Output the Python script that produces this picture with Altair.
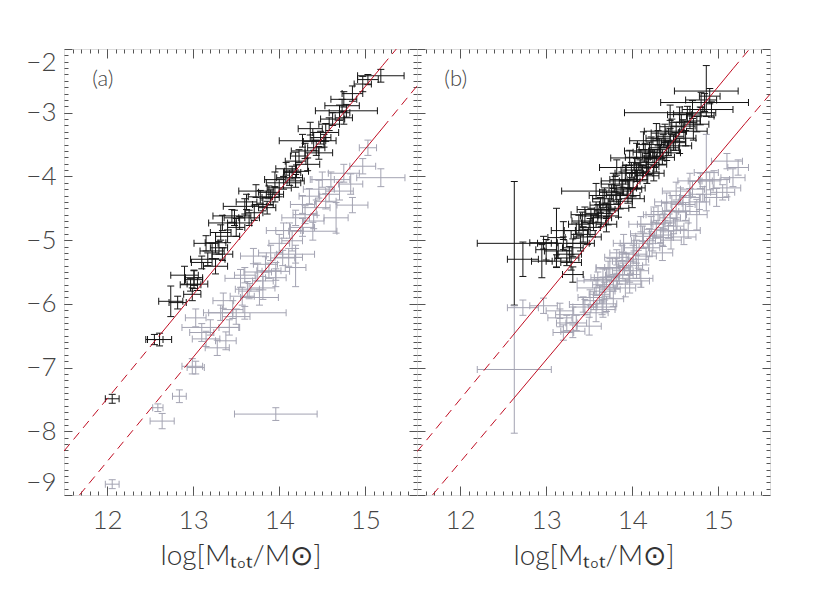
import altair as alt
import numpy as np
import pandas as pd

# ---------------- data ----------------
# Panel (a) black points
a_blk_x = [15.18, 15.03, 14.97, 14.75, 14.73, 14.70, 14.75, 14.58, 14.54, 14.48, 14.52, 14.43, 14.46, 14.27,
           14.23, 14.19, 14.33, 14.15, 14.12, 14.19, 14.00, 13.88, 13.90, 13.81, 13.86, 13.73, 13.71, 13.65,
           13.54, 13.50, 13.34, 13.32, 13.40, 13.26, 13.30, 13.22, 13.34, 13.01, 12.97, 13.26, 13.01, 13.05,
           12.99, 12.74, 12.82, 12.61, 12.55, 12.06, 14.05, 13.60, 14.78, 13.45, 14.36, 13.95, 13.17,
           13.62, 13.78, 13.95, 14.08, 14.30, 14.40, 14.62, 14.85, 13.15, 13.10, 12.90, 13.48, 14.20]
a_blk_y = [-2.42, -2.48, -2.55, -2.79, -2.89, -3.00, -3.08, -3.18, -3.31, -3.39, -3.44, -3.55, -3.63, -3.44,
           -3.68, -3.76, -3.81, -3.94, -4.02, -4.07, -4.18, -4.25, -4.33, -4.44, -4.49, -4.23, -4.57, -4.65,
           -4.73, -4.80, -4.73, -4.88, -4.94, -5.04, -5.12, -5.17, -5.22, -5.59, -5.70, -5.41, -5.62, -5.69,
           -5.85, -5.96, -5.98, -6.56, -6.56, -7.49, -4.10, -4.47, -2.97, -4.62, -3.25, -4.05, -5.30,
           -4.40, -4.32, -4.28, -3.88, -3.60, -3.45, -3.10, -2.70, -5.05, -5.35, -5.55, -4.65, -3.92]
a_blk_xe = [0.27, 0.12, 0.10, 0.15, 0.20, 0.12, 0.10, 0.12, 0.15, 0.12, 0.14, 0.10, 0.16, 0.27,
            0.10, 0.12, 0.14, 0.10, 0.15, 0.10, 0.14, 0.12, 0.10, 0.12, 0.10, 0.20, 0.10, 0.12,
            0.14, 0.10, 0.16, 0.12, 0.14, 0.12, 0.10, 0.14, 0.12, 0.10, 0.12, 0.14, 0.10, 0.12,
            0.10, 0.14, 0.10, 0.14, 0.10, 0.08, 0.20, 0.25, 0.36, 0.22, 0.14, 0.12, 0.20,
            0.12, 0.14, 0.10, 0.12, 0.16, 0.12, 0.14, 0.12, 0.14, 0.12, 0.16, 0.12, 0.14]
a_blk_ye = [0.10, 0.08, 0.12, 0.12, 0.10, 0.12, 0.10, 0.10, 0.14, 0.10, 0.10, 0.12, 0.10, 0.10,
            0.10, 0.14, 0.10, 0.10, 0.12, 0.10, 0.14, 0.10, 0.12, 0.10, 0.10, 0.10, 0.12, 0.12,
            0.10, 0.14, 0.12, 0.12, 0.10, 0.16, 0.10, 0.12, 0.10, 0.12, 0.10, 0.12, 0.14, 0.10,
            0.10, 0.24, 0.10, 0.10, 0.08, 0.07, 0.10, 0.12, 0.10, 0.10, 0.10, 0.12, 0.10,
            0.12, 0.10, 0.12, 0.10, 0.12, 0.14, 0.10, 0.12, 0.12, 0.10, 0.14, 0.12, 0.10]

# Panel (a) grey points
a_gry_x = [15.18, 15.03, 14.97, 14.83, 14.70, 14.58, 14.46, 14.54, 14.43, 14.35, 14.27, 14.19, 14.27, 14.15,
           14.19, 14.04, 13.96, 13.84, 13.81, 13.63, 14.39, 14.66, 14.11, 14.19, 13.88, 13.96, 13.81, 13.65,
           13.57, 13.77, 13.46, 13.32, 13.42, 13.03, 13.20, 13.38, 13.28, 12.99, 13.03, 12.84, 12.59, 12.64,
           13.96, 12.06, 14.60, 14.05, 13.70, 14.85, 13.55, 13.15, 13.60,
           14.30, 14.12, 14.00, 13.90, 13.75, 13.60, 14.50, 14.75, 13.35, 13.10, 13.50, 14.40]
a_gry_y = [-4.02, -3.55, -3.84, -4.12, -4.23, -4.28, -4.20, -4.39, -4.49, -4.31, -4.44, -4.65, -4.80, -5.01,
           -5.22, -5.28, -5.49, -5.38, -5.64, -5.77, -4.86, -4.65, -5.27, -5.43, -5.48, -5.59, -5.75, -5.80,
           -5.88, -5.90, -6.09, -6.14, -6.37, -6.22, -6.37, -6.58, -6.69, -6.98, -7.00, -7.45, -7.63, -7.84,
           -7.73, -8.83, -4.05, -4.85, -5.25, -4.45, -5.60, -6.55, -6.14,
           -4.60, -4.85, -5.05, -5.20, -5.50, -5.55, -4.05, -3.95, -5.95, -6.45, -6.20, -4.70]
a_gry_xe = [0.28, 0.10, 0.15, 0.14, 0.16, 0.12, 0.18, 0.12, 0.16, 0.12, 0.14, 0.16, 0.14, 0.12,
            0.22, 0.14, 0.16, 0.14, 0.12, 0.14, 0.28, 0.14, 0.16, 0.12, 0.14, 0.12, 0.14, 0.12,
            0.14, 0.22, 0.12, 0.14, 0.12, 0.12, 0.33, 0.12, 0.14, 0.12, 0.10, 0.08, 0.06, 0.14,
            0.48, 0.08, 0.22, 0.20, 0.15, 0.18, 0.18, 0.16, 0.48,
            0.14, 0.16, 0.12, 0.14, 0.16, 0.12, 0.14, 0.18, 0.12, 0.14, 0.16, 0.12]
a_gry_ye = [0.14, 0.12, 0.12, 0.16, 0.14, 0.12, 0.14, 0.12, 0.12, 0.12, 0.14, 0.12, 0.14, 0.16,
            0.14, 0.12, 0.14, 0.12, 0.14, 0.12, 0.14, 0.24, 0.14, 0.30, 0.12, 0.14, 0.18, 0.12,
            0.14, 0.12, 0.14, 0.12, 0.12, 0.14, 0.12, 0.14, 0.12, 0.12, 0.10, 0.10, 0.06, 0.12,
            0.10, 0.07, 0.12, 0.12, 0.12, 0.12, 0.14, 0.12, 0.10,
            0.14, 0.12, 0.14, 0.12, 0.14, 0.12, 0.12, 0.14, 0.12, 0.14, 0.12, 0.12]

# Panel (b) black points
b_blk_x = [14.86, 14.90, 14.84, 14.44, 14.79, 14.67, 14.59, 14.51, 14.44, 14.36, 14.48, 14.32, 14.40, 14.24,
           14.17, 14.28, 14.09, 14.05, 14.17, 13.97, 14.01, 13.89, 13.82, 13.86, 13.74, 13.70, 13.58, 13.58,
           13.64, 13.55, 13.51, 13.43, 13.31, 13.27, 13.12, 13.14, 12.97, 12.95, 12.73, 12.63, 13.31, 14.28,
           14.13, 14.55, 14.71, 13.97, 13.82, 13.78, 14.05, 13.12, 13.24, 13.29, 14.62, 14.35, 14.20, 13.95,
           13.66, 13.45, 13.38, 13.20, 14.92, 14.55,
           13.35, 13.42, 13.48, 13.52, 13.60, 13.63, 13.68, 13.72, 13.76, 13.80, 13.84, 13.88, 13.92, 13.95,
           13.99, 14.03, 14.06, 14.10, 14.12, 14.15, 14.19, 14.22, 14.26, 14.30, 14.33, 14.38, 14.42, 14.46,
           14.50, 14.57, 14.64, 14.70, 14.75, 14.80, 13.20, 13.00, 13.40, 13.70, 14.00, 14.25]
b_blk_y = [-2.66, -2.74, -2.84, -3.00, -3.05, -3.13, -3.21, -3.29, -3.37, -3.44, -3.47, -3.55, -3.63, -3.68,
           -3.78, -3.81, -3.86, -3.94, -3.99, -4.07, -4.18, -4.18, -4.28, -4.39, -4.44, -4.54, -4.52, -4.23,
           -4.65, -4.73, -4.80, -4.91, -5.12, -5.22, -4.96, -5.17, -5.04, -5.33, -5.30, -5.05, -5.54, -3.29,
           -3.44, -3.03, -3.29, -3.71, -3.86, -4.07, -3.60, -5.33, -5.28, -5.35, -3.40, -3.70, -3.58, -4.30,
           -4.35, -4.60, -4.75, -5.05, -2.95, -3.52,
           -4.85, -4.70, -4.95, -4.62, -4.58, -4.45, -4.30, -4.62, -4.25, -4.12, -4.50, -4.05, -3.95, -4.20,
           -3.90, -3.82, -4.05, -3.70, -3.95, -3.62, -3.85, -3.50, -3.72, -3.40, -3.62, -3.32, -3.55, -3.22,
           -3.45, -3.15, -3.02, -2.95, -3.18, -2.80, -4.85, -5.15, -5.05, -4.75, -4.35, -3.95]
b_blk_xe = [0.37, 0.12, 0.51, 0.53, 0.16, 0.12, 0.14, 0.12, 0.16, 0.12, 0.14, 0.12, 0.16, 0.12,
            0.14, 0.12, 0.16, 0.12, 0.14, 0.12, 0.14, 0.16, 0.12, 0.14, 0.12, 0.14, 0.22, 0.40,
            0.12, 0.14, 0.12, 0.14, 0.12, 0.14, 0.10, 0.16, 0.16, 0.12, 0.18, 0.43, 0.12, 0.14,
            0.16, 0.14, 0.16, 0.22, 0.20, 0.14, 0.14, 0.12, 0.14, 0.12, 0.12, 0.14, 0.12, 0.14,
            0.12, 0.16, 0.12, 0.30, 0.25, 0.14,
            0.14, 0.12, 0.16, 0.12, 0.14, 0.12, 0.18, 0.12, 0.14, 0.16, 0.12, 0.14, 0.12, 0.16,
            0.12, 0.14, 0.12, 0.18, 0.12, 0.14, 0.12, 0.16, 0.12, 0.14, 0.12, 0.16, 0.12, 0.14,
            0.12, 0.14, 0.16, 0.12, 0.14, 0.18, 0.14, 0.12, 0.16, 0.12, 0.14, 0.12]
b_blk_ye = [0.40, 0.12, 0.14, 0.12, 0.14, 0.12, 0.10, 0.14, 0.12, 0.10, 0.12, 0.14, 0.12, 0.10,
            0.14, 0.12, 0.12, 0.14, 0.12, 0.12, 0.14, 0.12, 0.14, 0.12, 0.14, 0.12, 0.12, 0.12,
            0.14, 0.12, 0.14, 0.12, 0.14, 0.12, 0.46, 0.12, 0.10, 0.26, 0.27, 0.97, 0.12, 0.12,
            0.14, 0.12, 0.14, 0.12, 0.12, 0.12, 0.12, 0.10, 0.12, 0.12, 0.12, 0.12, 0.12, 0.12,
            0.14, 0.12, 0.14, 0.10, 0.12, 0.12,
            0.12, 0.14, 0.12, 0.12, 0.14, 0.12, 0.12, 0.14, 0.12, 0.12, 0.14, 0.12, 0.12, 0.14,
            0.12, 0.12, 0.14, 0.12, 0.12, 0.14, 0.12, 0.12, 0.14, 0.12, 0.12, 0.14, 0.12, 0.12,
            0.14, 0.12, 0.12, 0.14, 0.12, 0.12, 0.14, 0.16, 0.12, 0.12, 0.14, 0.12]

# Panel (b) grey points
b_gry_x = [15.10, 15.17, 15.23, 15.10, 14.86, 14.98, 14.82, 14.90, 14.79, 14.67, 14.59, 14.51, 14.44, 14.36,
           14.48, 14.28, 14.20, 14.36, 14.13, 14.20, 14.05, 14.01, 13.93, 13.82, 13.97, 13.70, 13.66, 14.67,
           14.51, 14.75, 13.82, 13.74, 13.89, 13.66, 13.82, 13.97, 13.58, 13.74, 13.51, 13.62, 13.43, 13.58,
           13.31, 13.16, 13.24, 13.31, 12.97, 12.73, 12.63, 14.05, 13.89, 13.16, 13.66, 14.40, 14.25, 14.10,
           13.90, 14.45, 13.78, 13.70, 14.65,
           13.45, 13.55, 13.60, 13.68, 13.72, 13.78, 13.85, 13.88, 13.92, 13.98, 14.02, 14.07, 14.12, 14.16,
           14.22, 14.24, 14.30, 14.33, 14.38, 14.42, 14.46, 14.52, 14.56, 14.62, 14.70, 14.78, 14.95, 15.05,
           13.35, 13.50, 13.20, 13.65, 14.10, 14.35, 14.60]
b_gry_y = [-3.76, -4.02, -3.86, -4.18, -3.94, -4.33, -4.28, -4.07, -4.07, -4.33, -4.44, -4.54, -4.65, -4.73,
           -4.78, -4.83, -4.94, -4.96, -5.01, -5.12, -5.12, -5.22, -5.33, -5.43, -5.54, -5.59, -5.70, -4.07,
           -4.23, -4.60, -5.27, -5.43, -5.48, -5.59, -5.64, -5.69, -5.75, -5.77, -5.90, -5.85, -6.01, -6.14,
           -6.17, -6.22, -6.30, -6.43, -6.03, -6.06, -7.03, -5.48, -5.33, -6.11, -6.09, -4.40, -4.60, -4.75,
           -5.05, -5.00, -5.64, -6.00, -4.85,
           -6.05, -5.95, -5.62, -5.80, -5.45, -5.92, -5.55, -5.20, -5.75, -5.40, -5.05, -5.30, -4.90, -5.25,
           -4.75, -5.05, -4.60, -4.92, -4.55, -4.85, -4.42, -4.70, -4.30, -4.55, -4.20, -4.40, -4.05, -4.25,
           -6.30, -6.35, -6.45, -6.05, -5.60, -5.20, -4.95]
b_gry_xe = [0.18, 0.14, 0.12, 0.16, 0.14, 0.14, 0.16, 0.12, 0.14, 0.12, 0.14, 0.16, 0.12, 0.14,
            0.12, 0.14, 0.16, 0.12, 0.14, 0.12, 0.14, 0.16, 0.12, 0.14, 0.12, 0.14, 0.12, 0.14,
            0.16, 0.12, 0.14, 0.16, 0.12, 0.14, 0.12, 0.14, 0.22, 0.12, 0.14, 0.12, 0.16, 0.14,
            0.20, 0.14, 0.12, 0.14, 0.16, 0.18, 0.43, 0.14, 0.12, 0.16, 0.14, 0.14, 0.12, 0.14,
            0.12, 0.12, 0.42, 0.12, 0.14,
            0.14, 0.12, 0.16, 0.12, 0.14, 0.12, 0.16, 0.14, 0.12, 0.14, 0.16, 0.12, 0.14, 0.12,
            0.16, 0.12, 0.14, 0.12, 0.16, 0.14, 0.12, 0.14, 0.12, 0.16, 0.14, 0.12, 0.18, 0.14,
            0.12, 0.14, 0.12, 0.16, 0.14, 0.12, 0.14]
b_gry_ye = [0.12, 0.14, 0.12, 0.14, 0.60, 0.14, 0.12, 0.14, 0.12, 0.14, 0.12, 0.14, 0.12, 0.14,
            0.12, 0.14, 0.12, 0.14, 0.12, 0.14, 0.12, 0.14, 0.12, 0.14, 0.12, 0.14, 0.12, 0.12,
            0.14, 0.24, 0.12, 0.14, 0.12, 0.14, 0.12, 0.14, 0.12, 0.14, 0.12, 0.14, 0.12, 0.14,
            0.12, 0.14, 0.12, 0.10, 0.12, 0.12, 1.00, 0.12, 0.14, 0.12, 0.12, 0.14, 0.12, 0.12,
            0.14, 0.14, 0.10, 0.12, 0.12,
            0.12, 0.14, 0.12, 0.14, 0.12, 0.12, 0.14, 0.12, 0.14, 0.12, 0.12, 0.14, 0.12, 0.14,
            0.12, 0.12, 0.14, 0.12, 0.14, 0.12, 0.12, 0.14, 0.12, 0.14, 0.12, 0.12, 0.14, 0.12,
            0.12, 0.14, 0.12, 0.12, 0.14, 0.12, 0.12]

# Red reference lines: x / y of the break points (dashed - solid - dashed)
a_up_x = [11.50, 12.60, 15.20, 15.36]
a_up_y = [-8.31, -6.51, -2.26, -2.00]
a_lo_x = [11.68, 12.95, 15.20, 15.60]
a_lo_y = [-9.00, -6.92, -3.24, -2.58]
b_up_x = [11.50, 12.58, 15.17, 15.35]
b_up_y = [-8.32, -6.55, -2.31, -2.02]
b_lo_x = [11.68, 12.62, 15.31, 15.60]
b_lo_y = [-9.00, -7.49, -3.17, -2.71]

panel_labels = ["(a)", "(b)"]
label_x = [11.95, 11.95]
label_y = [-2.47, -2.47]

x_major = [12, 13, 14, 15]
y_major = [-2, -3, -4, -5, -6, -7, -8, -9]
x_minor = [round(v, 2) for v in np.arange(11.6, 15.55, 0.1)]
y_minor = [round(v, 2) for v in np.arange(-8.9, -2.05, 0.1)]

# ---------------- styling ----------------
BLACK = "#141414"
GRAY = "#a3a3b2"
RED = "#c00d22"
AX = "#555555"
FONT = "Lato"
TITLE = "log[Mₜₒₜ/M⊙]"

XS = alt.Scale(domain=[11.5, 15.6], nice=False, zero=False)
YS = alt.Scale(domain=[-9, -2], nice=False, zero=False)
CS = alt.Scale(domain=["gray", "black"], range=[GRAY, BLACK])
W, H = 353, 446


def points(xs, ys, xes, yes, grp):
    df = pd.DataFrame({"x": xs, "y": ys, "xe": xes, "ye": yes})
    df["grp"] = grp
    return df


def tick_axis(orient, values, size):
    return alt.Axis(orient=orient, values=values, ticks=True, tickSize=size, offset=-size,
                    tickColor=AX, tickWidth=1, labels=False, domain=False, grid=False, title=None)


def label_x_axis():
    return alt.Axis(orient="bottom", values=x_major, ticks=False, domain=False, grid=False,
                    labelFont=FONT, labelFontSize=26, labelFontWeight=300, labelColor="#444",
                    labelPadding=12, format="d", title=TITLE, titleFont=FONT, titleFontSize=28,
                    titleFontWeight=300, titleColor="#333", titlePadding=9)


def label_y_axis():
    return alt.Axis(orient="left", values=y_major, ticks=False, domain=False, grid=False,
                    labelFont=FONT, labelFontSize=26, labelFontWeight=300, labelColor="#444",
                    labelPadding=8, labelFlush=True, format="d", title=None)


def panel(blk, gry, up_x, up_y, lo_x, lo_y, idx, show_y):
    pts = pd.concat([gry, blk], ignore_index=True)
    pts["xlo"] = pts.x - pts.xe
    pts["xhi"] = pts.x + pts.xe
    pts["ylo"] = pts.y - pts.ye
    pts["yhi"] = pts.y + pts.ye
    caps_h = pd.concat([pts.assign(cx=pts.xlo), pts.assign(cx=pts.xhi)], ignore_index=True)
    caps_v = pd.concat([pts.assign(cy=pts.ylo), pts.assign(cy=pts.yhi)], ignore_index=True)

    segs = []
    for name, lx, ly in (("up", up_x, up_y), ("lo", lo_x, lo_y)):
        segs.append(pd.DataFrame({"seg": name + "1", "style": "dash", "x": lx[0:2], "y": ly[0:2]}))
        segs.append(pd.DataFrame({"seg": name + "2", "style": "solid", "x": lx[1:3], "y": ly[1:3]}))
        segs.append(pd.DataFrame({"seg": name + "3", "style": "dash", "x": lx[2:4], "y": ly[2:4]}))
    lines = pd.concat(segs, ignore_index=True)
    txt = pd.DataFrame({"t": [panel_labels[idx]], "x": [label_x[idx]], "y": [label_y[idx]]})

    color = alt.Color("grp:N", scale=CS, legend=None)

    hbar = alt.Chart(pts).mark_rule(strokeWidth=1, clip=True).encode(
        x=alt.X("xlo:Q", scale=XS, axis=label_x_axis()), x2="xhi:Q",
        y=alt.Y("y:Q", scale=YS, axis=label_y_axis() if show_y else None), color=color)
    vbar = alt.Chart(pts).mark_rule(strokeWidth=1, clip=True).encode(
        x=alt.X("x:Q", scale=XS, axis=tick_axis("bottom", x_major, 9)),
        y=alt.Y("ylo:Q", scale=YS, axis=tick_axis("left", y_major, 8)), y2="yhi:Q", color=color)
    caph = alt.Chart(caps_h).mark_tick(orient="vertical", size=7, thickness=1, opacity=1, clip=True).encode(
        x=alt.X("cx:Q", scale=XS, axis=tick_axis("bottom", x_minor, 4)),
        y=alt.Y("y:Q", scale=YS, axis=tick_axis("left", y_minor, 4)), color=color)
    capv = alt.Chart(caps_v).mark_tick(orient="horizontal", size=7, thickness=1, opacity=1, clip=True).encode(
        x=alt.X("x:Q", scale=XS, axis=tick_axis("top", x_major, 9)),
        y=alt.Y("cy:Q", scale=YS, axis=tick_axis("right", y_major, 8)), color=color)
    dashed = alt.Chart(lines).transform_filter(alt.datum.style == "dash").mark_line(
        color=RED, strokeWidth=1, strokeDash=[9, 6], clip=True).encode(
        x=alt.X("x:Q", scale=XS, axis=tick_axis("top", x_minor, 4)),
        y=alt.Y("y:Q", scale=YS, axis=tick_axis("right", y_minor, 4)), detail="seg:N")
    solid = alt.Chart(lines).transform_filter(alt.datum.style == "solid").mark_line(
        color=RED, strokeWidth=1, clip=True).encode(
        x=alt.X("x:Q", scale=XS, axis=None), y=alt.Y("y:Q", scale=YS, axis=None), detail="seg:N")
    text = alt.Chart(txt).mark_text(font=FONT, fontSize=22, fontWeight=300, color="#444").encode(
        x=alt.X("x:Q", scale=XS, axis=None), y=alt.Y("y:Q", scale=YS, axis=None), text="t:N")

    return alt.layer(hbar, vbar, caph, capv, dashed, solid, text).resolve_axis(
        x="independent", y="independent").properties(width=W, height=H)


pa = panel(points(a_blk_x, a_blk_y, a_blk_xe, a_blk_ye, "black"),
           points(a_gry_x, a_gry_y, a_gry_xe, a_gry_ye, "gray"),
           a_up_x, a_up_y, a_lo_x, a_lo_y, 0, True)
pb = panel(points(b_blk_x, b_blk_y, b_blk_xe, b_blk_ye, "black"),
           points(b_gry_x, b_gry_y, b_gry_xe, b_gry_ye, "gray"),
           b_up_x, b_up_y, b_lo_x, b_lo_y, 1, False)

chart = alt.hconcat(pa, pb, spacing=0, bounds="flush").properties(
    padding={"left": 17, "top": 40, "right": 10, "bottom": 5}
).configure_view(stroke=AX, strokeWidth=1).configure(background="white")

chart.save("out.html", embed_options={"renderer": "svg", "actions": False})
